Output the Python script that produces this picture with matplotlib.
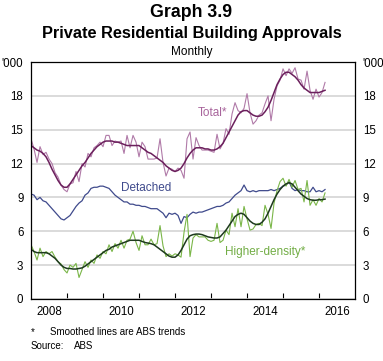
import numpy as np
import matplotlib.pyplot as plt

plt.rcParams['font.family'] = ['Liberation Sans', 'DejaVu Sans']

# monthly data, Jan 2008 to Mar 2016, '000
start_year = 2008

total_raw = [14.2, 13.3, 12.1, 13.5, 12.8, 13.0, 12.4, 12.0, 11.2, 10.8,
             10.1, 9.7, 9.5, 10.2, 10.3, 11.3, 10.4, 12.0, 11.7, 12.9,
             12.6, 13.4, 13.6, 13.9, 13.5, 14.5, 14.5, 13.6, 14.0, 13.9,
             14.0, 12.9, 14.5, 13.4, 14.5, 13.9, 12.6, 13.9, 13.5, 12.4,
             12.4, 12.4, 12.5, 14.2, 12.1, 10.9, 11.6, 11.5, 11.3, 11.6,
             11.4, 10.7, 14.2, 14.8, 12.4, 14.3, 13.6, 13.2, 13.2, 13.2,
             13.1, 13.0, 14.6, 13.3, 13.8, 15.1, 14.6, 16.4, 17.4, 16.7,
             16.5, 16.9, 18.2, 16.5, 15.5, 15.8, 16.3, 16.5, 17.3, 18.0,
             15.8, 17.7, 18.9, 19.4, 20.4, 19.8, 20.4, 20.0, 20.5, 19.5,
             19.4, 18.6, 20.2, 18.5, 17.7, 18.6, 17.9, 18.3, 19.2]

total_trend = [13.6, 13.4, 13.2, 13.1, 12.9, 12.6, 12.1, 11.5, 11.0, 10.5,
               10.1, 9.9, 9.9, 10.2, 10.6, 11.0, 11.4, 11.8, 12.1, 12.5,
               12.9, 13.2, 13.5, 13.7, 13.9, 14.0, 14.0, 14.0, 13.9, 13.9,
               13.8, 13.7, 13.6, 13.6, 13.6, 13.6, 13.6, 13.4, 13.2, 13.0,
               12.9, 12.7, 12.5, 12.3, 12.1, 11.8, 11.6, 11.4, 11.3, 11.4,
               11.6, 12.0, 12.5, 12.9, 13.2, 13.4, 13.4, 13.4, 13.3, 13.3,
               13.2, 13.2, 13.3, 13.5, 13.8, 14.3, 14.8, 15.3, 15.8, 16.3,
               16.6, 16.7, 16.7, 16.5, 16.3, 16.2, 16.2, 16.3, 16.6, 17.0,
               17.6, 18.3, 19.0, 19.5, 19.9, 20.1, 20.1, 19.9, 19.7, 19.4,
               19.0, 18.7, 18.5, 18.3, 18.3, 18.3, 18.3, 18.4, 18.5]

detached = [9.3, 9.2, 8.8, 9.0, 8.7, 8.6, 8.3, 8.0, 7.7, 7.4,
            7.1, 7.0, 7.2, 7.4, 7.8, 8.2, 8.5, 8.7, 9.2, 9.4,
            9.8, 9.9, 9.9, 10.0, 10.0, 9.9, 9.8, 9.5, 9.2, 9.0,
            8.8, 8.6, 8.6, 8.4, 8.4, 8.3, 8.3, 8.2, 8.2, 8.1,
            8.0, 8.0, 8.0, 7.8, 7.6, 7.2, 7.6, 7.5, 7.6, 7.4,
            6.7, 7.3, 7.2, 7.5, 7.7, 7.6, 7.7, 7.7, 7.8, 7.9,
            8.0, 8.1, 8.2, 8.2, 8.3, 8.5, 8.6, 8.9, 9.2, 9.4,
            9.6, 10.1, 9.6, 9.5, 9.6, 9.5, 9.6, 9.6, 9.6, 9.6,
            9.7, 9.6, 9.7, 9.8, 10.0, 10.1, 10.4, 9.8, 9.6, 9.7,
            9.6, 9.6, 9.5, 9.5, 9.9, 9.5, 9.6, 9.5, 9.7]

hd_raw = [4.8, 4.2, 3.45, 4.5, 3.75, 4.2, 4.0, 4.2, 3.7, 3.3,
          3.1, 2.6, 2.3, 3.0, 2.8, 3.15, 1.9, 2.6, 3.3, 2.8,
          3.45, 3.15, 3.9, 3.6, 4.2, 4.0, 4.8, 4.2, 4.9, 4.5,
          5.2, 4.5, 5.2, 5.3, 6.0, 5.0, 4.3, 5.6, 4.8, 4.8,
          5.3, 4.8, 4.9, 6.5, 4.7, 3.75, 4.0, 3.8, 4.0, 3.9,
          3.7, 5.9, 7.5, 3.75, 5.4, 5.7, 5.5, 5.5, 5.5, 5.2,
          5.1, 5.2, 6.7, 5.0, 5.2, 6.1, 5.7, 7.6, 6.4, 8.0,
          6.4, 8.2, 7.1, 6.1, 6.2, 6.6, 6.7, 6.5, 8.3, 7.5,
          6.25, 8.5, 9.6, 10.4, 10.7, 10.0, 10.6, 9.9, 10.5, 9.7,
          9.8, 8.6, 10.5, 8.3, 8.8, 8.3, 8.9, 8.6, 9.4]

hd_trend = [4.4, 4.2, 4.1, 4.1, 4.1, 4.1, 4.0, 3.8, 3.6, 3.3,
            3.0, 2.8, 2.7, 2.7, 2.65, 2.65, 2.7, 2.75, 2.9, 3.1,
            3.3, 3.5, 3.7, 3.9, 4.1, 4.3, 4.4, 4.6, 4.7, 4.8,
            4.9, 5.0, 5.1, 5.2, 5.2, 5.2, 5.2, 5.1, 5.0, 4.95,
            4.9, 4.8, 4.6, 4.4, 4.2, 4.0, 3.8, 3.7, 3.7, 3.9,
            4.3, 4.8, 5.3, 5.6, 5.7, 5.75, 5.75, 5.7, 5.6, 5.5,
            5.45, 5.4, 5.4, 5.5, 5.8, 6.1, 6.5, 6.9, 7.3, 7.5,
            7.6, 7.5, 7.2, 6.9, 6.7, 6.6, 6.6, 6.8, 7.1, 7.6,
            8.2, 8.8, 9.3, 9.7, 10.0, 10.2, 10.3, 10.2, 9.9, 9.6,
            9.3, 9.1, 8.9, 8.8, 8.75, 8.75, 8.8, 8.8, 8.85]

y_ticks = [0, 3, 6, 9, 12, 15, 18, 21]
y_labels = ['0', '3', '6', '9', '12', '15', '18', "'000"]
x_labels = ['2008', '2010', '2012', '2014', '2016']

months = start_year + np.arange(len(total_raw)) / 12

fig = plt.figure(figsize=(3.83, 3.61), dpi=100)
ax = fig.add_axes([0.081, 0.172, 0.846, 0.656])

ax.plot(months, total_raw, color='#b07aa8', lw=0.8)
ax.plot(months, total_trend, color='#6b1f5c', lw=1.1)
ax.plot(months, detached, color='#3f4a8c', lw=0.9)
ax.plot(months, hd_raw, color='#7ab648', lw=0.8)
ax.plot(months, hd_trend, color='#1e3a1e', lw=1.1)

ax.text(2013.03, 16.5, 'Total*', color='#a8659c', fontsize=8.5,
        ha='center', va='center')
ax.text(2011.2, 9.8, 'Detached', color='#3f4a8c', fontsize=8.5,
        ha='center', va='center')
ax.text(2014.5, 4.15, 'Higher-density*', color='#72ad45', fontsize=8.5,
        ha='center', va='center')

ax.set_xlim(2008, 2017)
ax.set_ylim(0, 21)
ax.set_yticks(y_ticks)
ax.set_yticklabels(y_labels)
ax.yaxis.grid(True, color='#d4d4d4', lw=1.2)
ax.set_axisbelow(True)
ax.tick_params(axis='y', left=False, right=False, labelleft=True,
               labelright=True, labelsize=8.3, pad=2)

ax.set_xticks(range(2009, 2017))
ax.set_xticklabels([])
ax.set_xticks([int(s) + 0.5 for s in x_labels], minor=True)
ax.set_xticklabels(x_labels, minor=True)
ax.tick_params(axis='x', which='major', direction='in', length=4,
               width=0.8)
ax.tick_params(axis='x', which='minor', length=0, labelsize=8.3, pad=5)

for s in ax.spines.values():
    s.set_linewidth(0.9)

fig.text(0.5, 0.964, 'Graph 3.9', ha='center', va='center',
         fontsize=12.8, fontweight='bold')
fig.text(0.5, 0.906, 'Private Residential Building Approvals', ha='center',
         va='center', fontsize=11.8, fontweight='bold')
fig.text(0.5, 0.856, 'Monthly', ha='center', va='center', fontsize=8.5)

fig.text(0.081, 0.080, '*', fontsize=7, va='center')
fig.text(0.13, 0.080, 'Smoothed lines are ABS trends', fontsize=7,
         va='center')
fig.text(0.081, 0.042, 'Source:', fontsize=7, va='center')
fig.text(0.193, 0.042, 'ABS', fontsize=7, va='center')

fig.savefig('out.png', dpi=100)
